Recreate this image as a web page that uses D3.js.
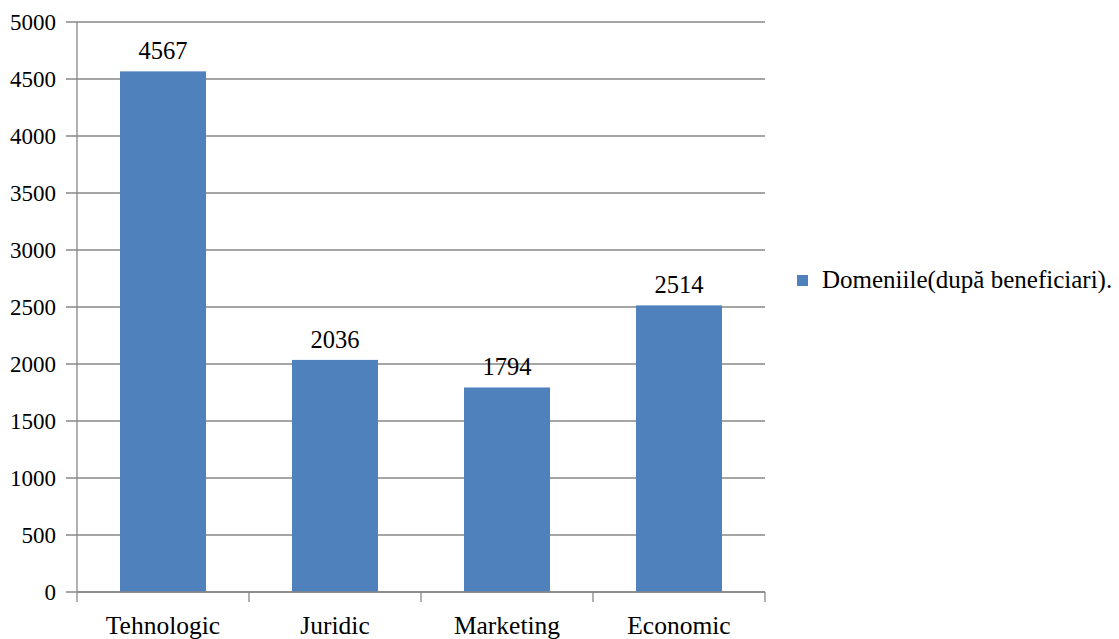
<!DOCTYPE html>
<html>
<head>
<meta charset="utf-8">
<script src="https://cdn.jsdelivr.net/npm/d3@7"></script>
<style>
  body { margin: 0; background: #fff; }
  .serif { font-family: 'Liberation Serif', 'Times New Roman', serif; }
  #fontwarm { position: absolute; left: 0; top: 0; visibility: hidden; font-size: 25px; }
</style>
</head>
<body>
<div id="fontwarm" class="serif">0</div>
<svg id="chart" width="1119" height="639"></svg>
<script>
// chart data
const categories = ["Tehnologic", "Juridic", "Marketing", "Economic"];
const values = [4567, 2036, 1794, 2514];
const yTicks = [0, 500, 1000, 1500, 2000, 2500, 3000, 3500, 4000, 4500, 5000];
const seriesName = "Domeniile(după beneficiari).";

const width = 1119, height = 639;
const margin = {top: 22, right: 354, bottom: 47, left: 77};
const innerW = width - margin.left - margin.right;
const innerH = height - margin.top - margin.bottom;
const gridColor = "#878787";
const barColor = "#4F81BD";

const svg = d3.select("#chart");

const g = svg.append("g")
    .attr("transform", "translate(" + margin.left + "," + margin.top + ")");

const x = d3.scaleBand()
    .domain(categories)
    .range([0, innerW])
    .paddingInner(0.5)
    .paddingOuter(0.25);

const y = d3.scaleLinear()
    .domain([0, 5000])
    .range([innerH, 0]);

// gridlines + y ticks
g.selectAll(".grid")
    .data(yTicks)
    .enter().append("line")
    .attr("class", "grid")
    .attr("x1", -11)
    .attr("x2", innerW)
    .attr("y1", d => y(d))
    .attr("y2", d => y(d))
    .attr("stroke", gridColor)
    .attr("stroke-width", 1.3);

g.selectAll(".ylab")
    .data(yTicks)
    .enter().append("text")
    .attr("class", "ylab serif")
    .attr("x", -21)
    .attr("y", d => y(d))
    .attr("dy", "0.34em")
    .attr("text-anchor", "end")
    .style("font-size", "23px")
    .text(d => d);

// y axis line
g.append("line")
    .attr("x1", 0).attr("x2", 0)
    .attr("y1", 0).attr("y2", innerH)
    .attr("stroke", gridColor)
    .attr("stroke-width", 1.3);

// bars
g.selectAll(".bar")
    .data(values)
    .enter().append("rect")
    .attr("class", "bar")
    .attr("x", (d, i) => x(categories[i]))
    .attr("width", x.bandwidth())
    .attr("y", d => y(d))
    .attr("height", d => innerH - y(d))
    .style("fill", barColor);

// value labels
g.selectAll(".vlab")
    .data(values)
    .enter().append("text")
    .attr("class", "vlab serif")
    .attr("x", (d, i) => x(categories[i]) + x.bandwidth() / 2)
    .attr("y", d => y(d) - 12)
    .attr("text-anchor", "middle")
    .style("font-size", "24.5px")
    .text(d => d);

// x axis line + category ticks
g.append("line")
    .attr("x1", 0).attr("x2", innerW)
    .attr("y1", innerH).attr("y2", innerH)
    .attr("stroke", gridColor)
    .attr("stroke-width", 1.3);

const step = x.step();
g.selectAll(".xtick")
    .data(d3.range(categories.length + 1))
    .enter().append("line")
    .attr("class", "xtick")
    .attr("x1", i => i * step)
    .attr("x2", i => i * step)
    .attr("y1", innerH)
    .attr("y2", innerH + 10)
    .attr("stroke", gridColor)
    .attr("stroke-width", 1.3);

g.selectAll(".xlab")
    .data(categories)
    .enter().append("text")
    .attr("class", "xlab serif")
    .attr("x", d => x(d) + x.bandwidth() / 2)
    .attr("y", innerH + 42)
    .attr("text-anchor", "middle")
    .style("font-size", "25.5px")
    .text(d => d);

// legend
const legend = svg.append("g")
    .attr("transform", "translate(797,275)");

legend.append("rect")
    .attr("width", 11)
    .attr("height", 11)
    .style("fill", barColor);

legend.append("text")
    .attr("class", "serif")
    .attr("x", 25)
    .attr("y", 13)
    .style("font-size", "25px")
    .text(seriesName);
</script>
</body>
</html>
